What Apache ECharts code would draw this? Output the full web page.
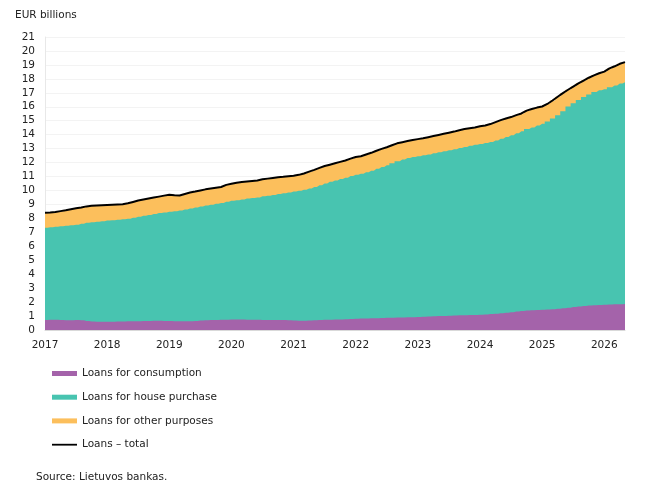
<!DOCTYPE html>
<html>
<head>
<meta charset="utf-8">
<script src="https://cdn.jsdelivr.net/npm/echarts@6/dist/echarts.min.js"></script>
<style>
html,body{margin:0;padding:0;background:#fff;}
#chart{width:650px;height:500px;}
</style>
</head>
<body>
<div id="chart"></div>
<script>
// Months: 2017-01 .. 2026-05
const months = [];
for (let y = 2017; y <= 2026; y++) {
  for (let m = 1; m <= 12; m++) {
    if (y === 2026 && m > 5) break;
    months.push(y + '-' + (m < 10 ? '0' + m : m));
  }
}

const consumption = [
0.72,0.73,0.73,0.72,0.70,0.70,0.71,0.70,0.64,0.61,0.60,0.60,
0.60,0.60,0.61,0.61,0.62,0.62,0.63,0.64,0.65,0.66,0.66,0.65,
0.64,0.63,0.62,0.62,0.63,0.65,0.68,0.70,0.71,0.72,0.73,0.74,
0.75,0.76,0.76,0.74,0.73,0.73,0.72,0.72,0.72,0.72,0.71,0.70,
0.68,0.67,0.67,0.68,0.70,0.72,0.73,0.74,0.75,0.76,0.77,0.78,
0.80,0.82,0.83,0.84,0.85,0.86,0.87,0.88,0.89,0.90,0.91,0.92,
0.93,0.95,0.97,0.99,1.00,1.01,1.03,1.04,1.05,1.06,1.07,1.08,
1.09,1.11,1.14,1.17,1.20,1.24,1.28,1.32,1.36,1.39,1.41,1.43,
1.45,1.47,1.49,1.52,1.56,1.60,1.64,1.68,1.72,1.75,1.77,1.79,
1.81,1.82,1.84,1.85,1.86
];

const housePurchase = [
6.61,6.63,6.67,6.72,6.77,6.80,6.84,6.92,7.04,7.11,7.16,7.20,
7.24,7.27,7.29,7.32,7.36,7.43,7.49,7.54,7.60,7.66,7.72,7.78,
7.84,7.89,7.94,8.01,8.07,8.13,8.17,8.22,8.27,8.32,8.37,8.46,
8.51,8.54,8.59,8.68,8.73,8.77,8.86,8.91,8.96,9.02,9.09,9.16,
9.24,9.31,9.38,9.47,9.55,9.66,9.77,9.88,9.97,10.06,10.15,10.26,
10.32,10.38,10.47,10.58,10.70,10.82,10.93,11.07,11.21,11.32,11.41,11.48,
11.53,11.57,11.61,11.67,11.74,11.81,11.85,11.91,11.99,12.06,12.13,12.20,
12.25,12.29,12.34,12.41,12.50,12.60,12.68,12.78,12.88,13.01,13.11,13.22,
13.33,13.48,13.66,13.88,14.12,14.42,14.61,14.80,14.98,15.13,15.28,15.39,
15.44,15.58,15.68,15.81,15.89
];

const otherPurposes = [
1.07,1.06,1.06,1.08,1.11,1.15,1.17,1.16,1.18,1.18,1.16,1.14,
1.12,1.11,1.10,1.09,1.10,1.13,1.16,1.17,1.17,1.17,1.18,1.20,
1.22,1.13,1.08,1.12,1.15,1.14,1.15,1.16,1.16,1.16,1.15,1.20,
1.22,1.26,1.25,1.22,1.22,1.22,1.22,1.22,1.22,1.21,1.18,1.16,
1.14,1.14,1.17,1.20,1.23,1.24,1.25,1.23,1.23,1.23,1.23,1.24,
1.28,1.25,1.28,1.28,1.30,1.30,1.30,1.29,1.28,1.24,1.22,1.22,
1.22,1.22,1.24,1.24,1.24,1.24,1.26,1.27,1.28,1.28,1.26,1.24,
1.26,1.26,1.28,1.32,1.34,1.32,1.30,1.30,1.28,1.32,1.32,1.29,
1.24,1.25,1.30,1.32,1.30,1.20,1.20,1.20,1.18,1.20,1.20,1.22,
1.27,1.35,1.38,1.42,1.45
];

const total = consumption.map((v, i) => +(v + housePurchase[i] + otherPurposes[i]).toFixed(2));
// cumulative tops of the stacked bands (drawn as overlapping areas to avoid seams)
const topConsumption = consumption.slice();
const topHouse = consumption.map((v, i) => +(v + housePurchase[i]).toFixed(2));
const topOther = total.slice();

const yTicks = {min: 0, max: 21, interval: 1};
const seriesNames = ['Loans for consumption', 'Loans for house purchase', 'Loans for other purposes', 'Loans \u2013 total'];
const colors = ['#A463AA', '#48C4B0', '#FCBF5C', '#000000'];

const FONT = 'DejaVu Sans';
const chart = echarts.init(document.getElementById('chart'));

function areaSeries(name, data, color, z) {
  return {
    name: name, type: 'line', step: 'middle', z: z,
    data: data, symbol: 'none', showSymbol: false,
    lineStyle: {width: 0, color: color},
    itemStyle: {color: color},
    areaStyle: {color: color, opacity: 1},
    emphasis: {disabled: true},
    animation: false
  };
}

chart.setOption({
  animation: false,
  textStyle: {fontFamily: FONT},
  grid: {left: 45, right: 25, top: 37, bottom: 170, containLabel: false},
  legend: {
    orient: 'vertical', left: 52, top: 368, padding: 0,
    itemWidth: 25, itemHeight: 5, itemGap: 12.7,
    textStyle: {fontFamily: FONT, fontSize: 10.5, color: '#222'},
    data: [
      {name: seriesNames[0], icon: 'rect'},
      {name: seriesNames[1], icon: 'rect'},
      {name: seriesNames[2], icon: 'rect'},
      {name: seriesNames[3], icon: 'path://M0,0 M0,1.7 L25,1.7 L25,3.5 L0,3.5 Z M25,5'}
    ],
    selectedMode: false
  },
  graphic: [
    {type: 'text', left: 15, top: 10, style: {text: 'EUR billions', fontFamily: FONT, fontSize: 10.5, fill: '#222'}},
    {type: 'text', left: 36, top: 472, style: {text: 'Source: Lietuvos bankas.', fontFamily: FONT, fontSize: 10.5, fill: '#222'}}
  ],
  xAxis: {
    type: 'category', data: months, boundaryGap: false,
    axisLine: {show: true, lineStyle: {color: '#d9d9d9', width: 1}},
    axisTick: {show: false},
    axisLabel: {
      interval: function (i) { return i % 12 === 0; },
      formatter: function (v) { return v.slice(0, 4); },
      fontFamily: FONT, fontSize: 10.5, color: '#222', margin: 10
    },
    splitLine: {show: false}
  },
  yAxis: {
    type: 'value', min: yTicks.min, max: yTicks.max, interval: yTicks.interval,
    axisLine: {show: true, lineStyle: {color: '#e8e8e8'}},
    axisTick: {show: false},
    axisLabel: {fontFamily: FONT, fontSize: 10.5, color: '#222', margin: 10},
    splitLine: {show: true, lineStyle: {color: '#f3f3f3', width: 1}}
  },
  series: [
    areaSeries(seriesNames[2], topOther, colors[2], 2),
    areaSeries(seriesNames[1], topHouse, colors[1], 3),
    areaSeries(seriesNames[0], topConsumption, colors[0], 4),
    {
      name: seriesNames[3], type: 'line', data: total,
      symbol: 'none', showSymbol: false,
      lineStyle: {width: 2, color: colors[3]},
      itemStyle: {color: colors[3]},
      emphasis: {disabled: true},
      z: 5
    }
  ]
});
</script>
</body>
</html>
